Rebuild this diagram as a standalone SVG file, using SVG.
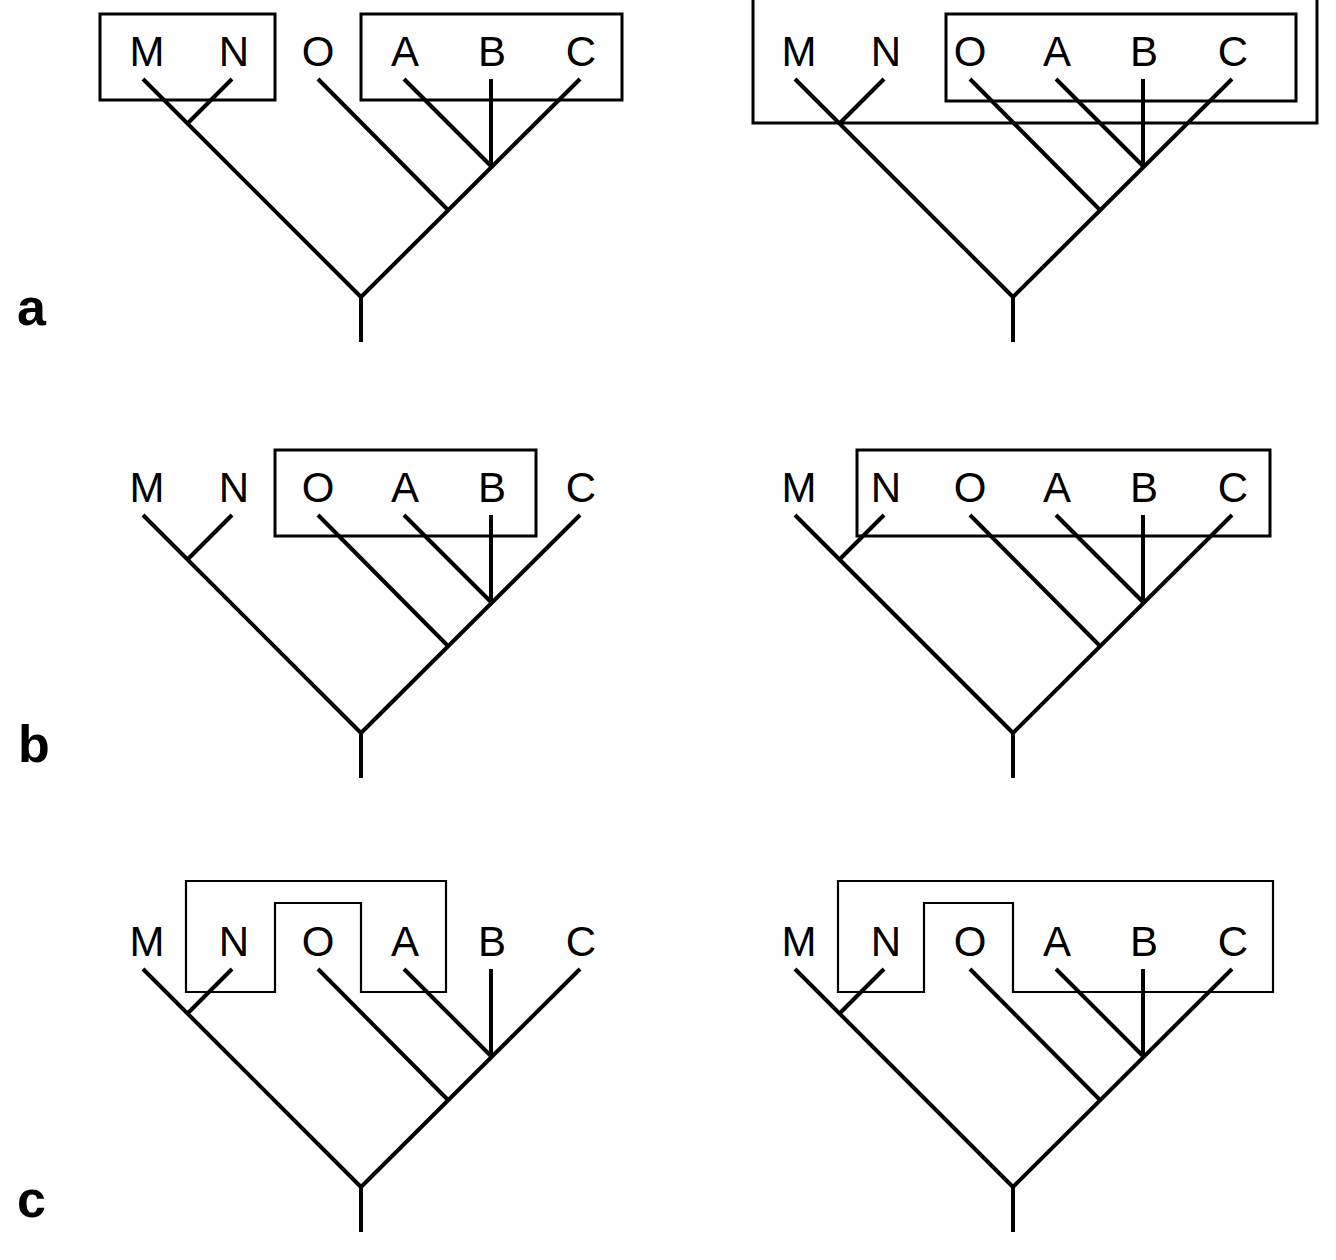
<svg xmlns="http://www.w3.org/2000/svg" width="1336" height="1260" viewBox="0 0 1336 1260">
<defs>
<style>
.lbl{font-family:"Liberation Sans",Arial,sans-serif;font-size:42px;fill:#000;text-anchor:middle}
.panel{font-family:"Liberation Sans",Arial,sans-serif;font-size:52px;font-weight:bold;fill:#000}
.br{stroke:#000;stroke-width:4;fill:none;stroke-linecap:butt}
.box{stroke:#000;stroke-width:3;fill:none}
.poly{stroke:#000;stroke-width:2.2;fill:none}
</style>
<g id="tree">
<line class="br" x1="143" y1="79" x2="361" y2="297"/>
<line class="br" x1="580" y1="79" x2="361" y2="297"/>
<line class="br" x1="232" y1="79" x2="188" y2="123"/>
<line class="br" x1="318" y1="79" x2="448" y2="210"/>
<line class="br" x1="404" y1="79" x2="491" y2="166"/>
<line class="br" x1="491" y1="79" x2="491" y2="167"/>
<line class="br" x1="361" y1="295" x2="361" y2="342"/>
</g>
<g id="labels">
<text class="lbl" x="147" y="66">M</text>
<text class="lbl" x="234" y="66">N</text>
<text class="lbl" x="318" y="66">O</text>
<text class="lbl" x="405" y="66">A</text>
<text class="lbl" x="492" y="66">B</text>
<text class="lbl" x="581" y="66">C</text>
</g>
</defs>

<g id="connectors">
<use href="#tree"/>
<use href="#tree" transform="translate(652,0)"/>
<use href="#tree" transform="translate(0,436)"/>
<use href="#tree" transform="translate(652,436)"/>
<use href="#tree" transform="translate(0,890)"/>
<use href="#tree" transform="translate(652,890)"/>
</g>

<g id="leaf-labels">
<use href="#labels"/>
<use href="#labels" transform="translate(652,0)"/>
<use href="#labels" transform="translate(0,436)"/>
<use href="#labels" transform="translate(652,436)"/>
<use href="#labels" transform="translate(0,890)"/>
<use href="#labels" transform="translate(652,890)"/>
</g>

<g id="box-a-left-MN"><rect class="box" x="100" y="14" width="175" height="86"/></g>
<g id="box-a-left-ABC"><rect class="box" x="361" y="14" width="261" height="86"/></g>
<g id="box-a-right-outer"><rect class="box" x="753" y="-10" width="564" height="133"/></g>
<g id="box-a-right-inner"><rect class="box" x="946" y="14" width="350" height="87"/></g>
<g id="box-b-left"><rect class="box" x="275" y="450" width="261" height="86"/></g>
<g id="box-b-right"><rect class="box" x="857" y="450" width="413" height="86"/></g>
<g id="box-c-left"><path class="poly" d="M186 881 H446 V992 H361 V903 H275 V992 H186 Z"/></g>
<g id="box-c-right"><path class="poly" d="M838 881 H1273 V992 H1013 V903 H924 V992 H838 Z"/></g>

<g id="panel-a"><text class="panel" x="17" y="325">a</text></g>
<g id="panel-b"><text class="panel" x="18" y="762">b</text></g>
<g id="panel-c"><text class="panel" x="17" y="1217">c</text></g>
</svg>
